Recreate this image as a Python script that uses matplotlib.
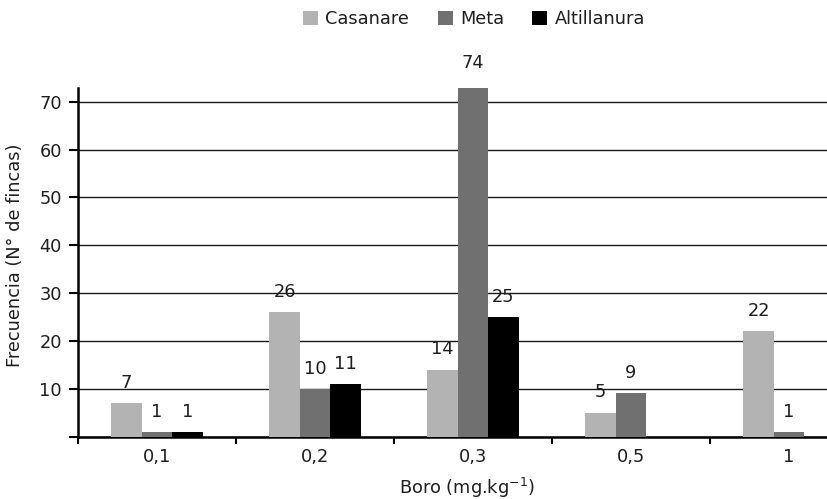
import matplotlib
matplotlib.use('Agg')
import matplotlib.pyplot as plt
import numpy as np

categories = ['0,1', '0,2', '0,3', '0,5', '1']
casanare = [7, 26, 14, 5, 22]
meta = [1, 10, 74, 9, 1]
altillanura = [1, 11, 25, 0, 0]
series_names = ['Casanare', 'Meta', 'Altillanura']
colors = ['#b3b3b3', '#707070', '#000000']
yticks = [0, 10, 20, 30, 40, 50, 60, 70]

plt.rcParams['font.family'] = ['DejaVu Sans']
txt = '#1e1e1e'
fs = 12.8

fig = plt.figure(figsize=(8.28, 4.99), dpi=100)
ax = fig.add_axes([78/828, 1-436.5/499, (868-78)/828, (436.5-88)/499])
x = np.arange(len(categories))
w = 0.193
for i, (vals, name, c) in enumerate(zip([casanare, meta, altillanura], series_names, colors)):
    pos = x + (i-1)*w
    ax.bar(pos, vals, w, color=c, label=name, zorder=3)
    for p, v in zip(pos, vals):
        if v > 0:
            ax.annotate(str(v), (p, v), xytext=(0, 14.5), textcoords='offset points',
                        ha='center', va='center', fontsize=fs, color=txt,
                        annotation_clip=False)

ax.set_xlim(-0.5, len(categories)-0.5)
ax.set_ylim(0, 72.9)
ax.set_yticks(yticks)
ax.set_yticklabels([''] + [str(t) for t in yticks[1:]])
ax.yaxis.grid(True, color='#1a1a1a', lw=1)
ax.set_axisbelow(True)

for s in ['top', 'right']:
    ax.spines[s].set_visible(False)
for s in ['left', 'bottom']:
    ax.spines[s].set_linewidth(1.8)
    ax.spines[s].set_color('#000000')

ax.set_xticks(np.arange(-0.5, len(categories), 1))
ax.set_xticklabels([])
ax.set_xticks(x, minor=True)
ax.set_xticklabels(categories, minor=True)
ax.tick_params(axis='x', which='major', direction='out', length=5, width=1.5)
ax.tick_params(axis='x', which='minor', length=0, pad=8.5, labelsize=fs, labelcolor=txt)
ax.tick_params(axis='y', direction='out', length=6.5, width=1.5, pad=5, labelsize=fs, labelcolor=txt)

fig.text(15/828, 1-255/499, 'Frecuencia (N° de fincas)', rotation=90, ha='center', va='center',
         fontsize=fs, color=txt)
fig.text(467/828, 1-488/499, r'Boro (mg.kg$^{\mathregular{-1}}$)', ha='center', va='center',
         fontsize=fs, color=txt)

fig.legend(loc='center', bbox_to_anchor=(474/828, 1-19/499), ncol=3, frameon=False,
           handlelength=0.85, handleheight=0.85, handletextpad=0.4, columnspacing=1.6,
           fontsize=fs, labelcolor=txt)

fig.savefig('out.png', dpi=100)
